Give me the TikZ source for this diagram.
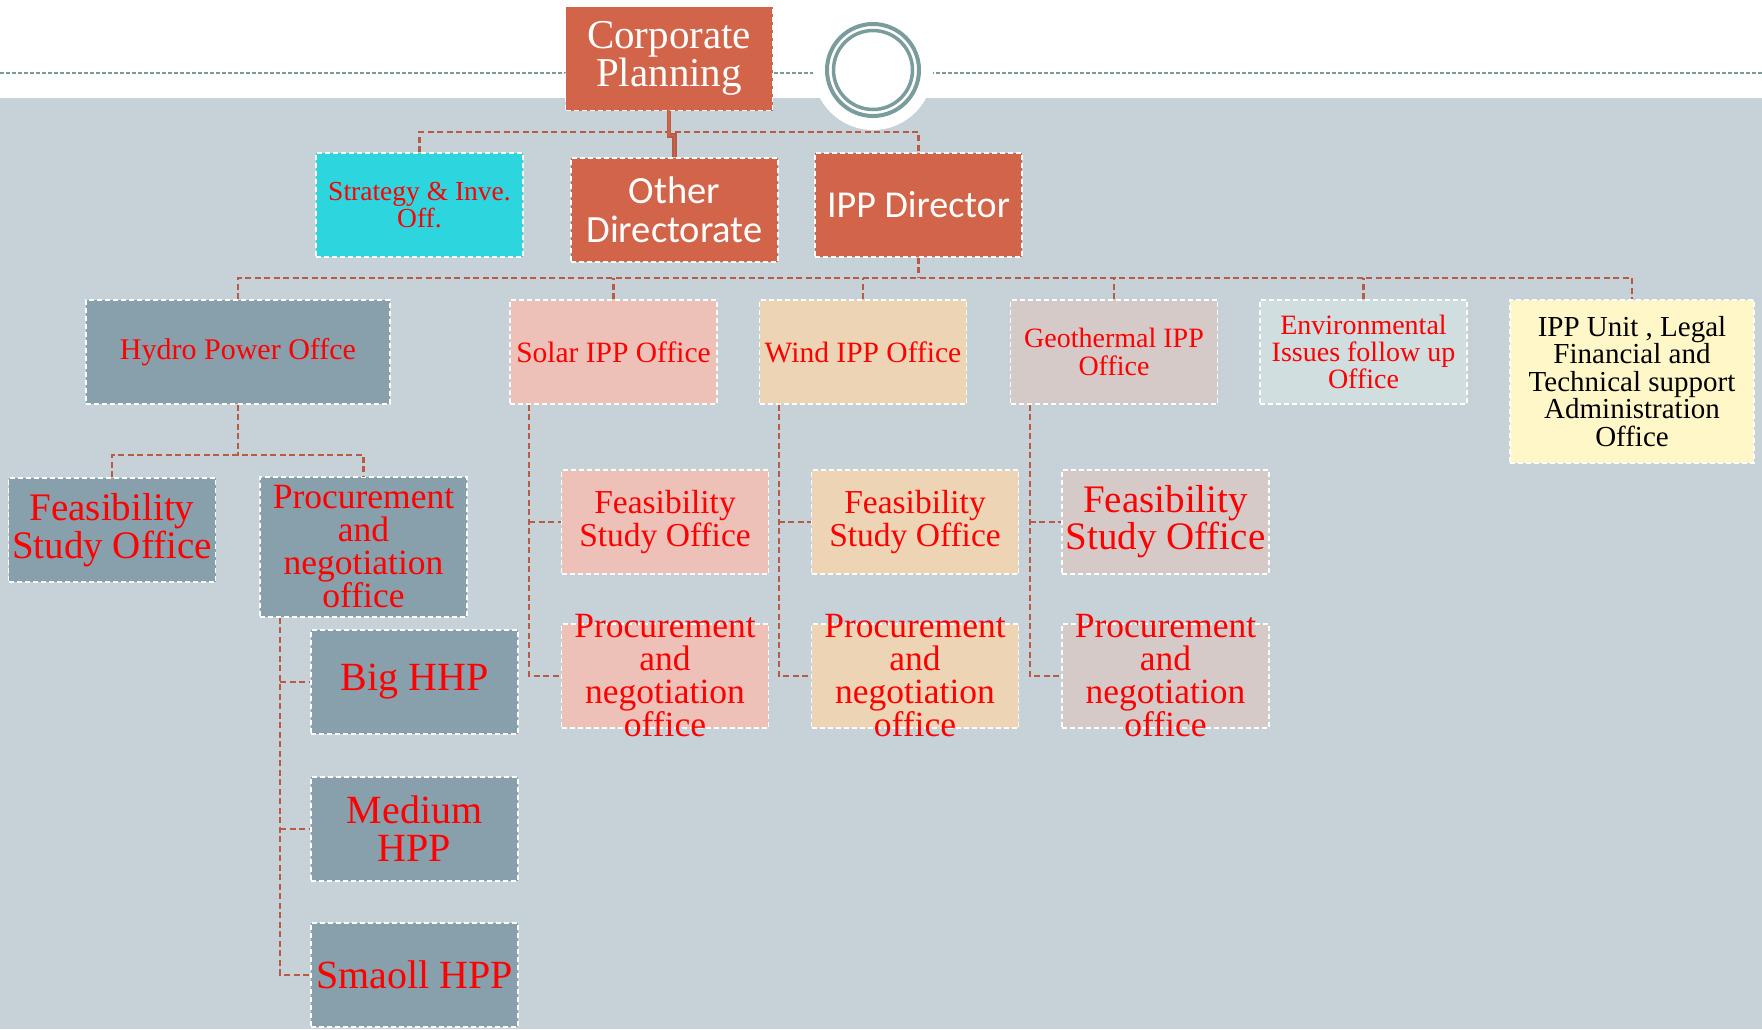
\documentclass[tikz,border=0pt]{standalone}
\usepackage{fontspec}
\setmainfont{Liberation Serif}
\newfontfamily\calibrifont{Carlito}
\usepackage{tikz}
\definecolor{bandc}{HTML}{C6D2D8}
\definecolor{ringc}{HTML}{7B9C9C}
\definecolor{orangec}{HTML}{D2644A}
\definecolor{cyanc}{HTML}{2DD6DF}
\definecolor{hydroc}{HTML}{88A0AB}
\definecolor{solarc}{HTML}{EDC1B7}
\definecolor{windc}{HTML}{EDD4B5}
\definecolor{geoc}{HTML}{D5CAC7}
\definecolor{envc}{HTML}{D0DEE0}
\definecolor{unitc}{HTML}{FFF7C7}
\definecolor{linkc}{HTML}{B85A44}

\begin{document}
\begin{tikzpicture}[x=1pt, y=-1pt,
   unit/.style = {draw=white, dash pattern=on 5pt off 3pt, line width=1.8pt,
                  minimum width=207pt, minimum height=104pt, inner sep=0pt, align=center},
   txt/.style = {text=red, align=center, inner sep=0pt},
   link/.style = {draw=linkc, line width=2.2pt, dash pattern=on 6pt off 3.5pt},
   trunk/.style = {draw=linkc, line width=1.2pt, double=orangec, double distance=1.8pt}]
   \useasboundingbox (0,0) rectangle (1762,1029);
   % background
   \fill[white] (0,0) rectangle (1762,1029);
   \fill[bandc] (0,98) rectangle (1762,1029);
   \draw[ringc, line width=2pt, dash pattern=on 4pt off 2pt] (0,73) -- (1762,73);
   \fill[white] (873,70) circle (60pt);
   \draw[ringc, line width=4pt] (873,70) circle (46pt);
   \draw[ringc, line width=3.5pt] (873,70) circle (39.5pt);
   % top level
   \node[unit, fill=orangec, text=white, font=\fontsize{41}{37}\selectfont] (cp) at (669,58.5) {Corporate\\Planning};
   \node[unit, fill=cyanc, txt, font=\fontsize{27.5}{27}\selectfont] (sio) at (419.5,205) {Strategy \& Inve.\\Off.};
   \node[unit, fill=orangec, text=white, font=\calibrifont\fontsize{38.5}{39}\selectfont] (od) at (674.5,210) {Other\\Directorate};
   \node[unit, fill=orangec, text=white, font=\calibrifont\fontsize{38}{39}\selectfont] (ipp) at (918.5,205) {IPP Director};
   % offices
   \node[unit, fill=hydroc, txt, minimum width=304pt, font=\fontsize{30}{28}\selectfont] (po-h) at (238,352) {Hydro Power Offce};
   \node[unit, fill=solarc, txt, font=\fontsize{29.5}{28}\selectfont] (po-s) at (613.5,352) {Solar IPP Office};
   \node[unit, fill=windc, txt, font=\fontsize{29.5}{28}\selectfont] (po-w) at (863,352) {Wind IPP Office};
   \node[unit, fill=geoc, txt, font=\fontsize{28}{28}\selectfont] (po-g) at (1114,352) {Geothermal IPP\\Office};
   \node[unit, fill=envc, txt, font=\fontsize{28}{27}\selectfont] (env) at (1363.5,352) {Environmental\\Issues follow up\\Office};
   \node[unit, fill=unitc, text=black, minimum width=244pt, minimum height=163pt, font=\fontsize{29}{27.5}\selectfont] (legal) at (1632,381.5) {IPP Unit , Legal\\Financial and\\Technical support\\Administration\\Office};
   % hydro units
   \node[unit, fill=hydroc, txt, font=\fontsize{39}{38}\selectfont] (fs-h) at (112,530) {Feasibility\\Study Office};
   \node[unit, fill=hydroc, txt, minimum height=140pt, font=\fontsize{35.5}{33}\selectfont] (pn-h) at (363.5,547) {Procurement\\and\\negotiation\\office};
   \node[unit, fill=hydroc, txt, font=\fontsize{40}{38}\selectfont] (big) at (414.5,682) {Big HHP};
   \node[unit, fill=hydroc, txt, font=\fontsize{40}{38}\selectfont] (med) at (414.5,829) {Medium\\HPP};
   \node[unit, fill=hydroc, txt, font=\fontsize{40}{38}\selectfont] (sml) at (414.5,975) {Smaoll HPP};
   % solar, wind, geothermal units
   \node[unit, fill=solarc, txt, font=\fontsize{33.5}{33}\selectfont] (fs-s) at (665,522) {Feasibility\\Study Office};
   \node[unit, fill=windc, txt, font=\fontsize{33.5}{33}\selectfont] (fs-w) at (915,522) {Feasibility\\Study Office};
   \node[unit, fill=geoc, txt, font=\fontsize{39}{37}\selectfont] (fs-g) at (1165.5,522) {Feasibility\\Study Office};
   \node[unit, fill=solarc] (pn-s) at (665,676) {};
   \node[unit, fill=windc] (pn-w) at (915,676) {};
   \node[unit, fill=geoc] (pn-g) at (1165.5,676) {};
   \foreach \p in {s,w,g}
      \node[txt, font=\fontsize{35.5}{33}\selectfont] (pn-\p-t) at (pn-\p) {Procurement\\and\\negotiation\\office};
   % connectors
   \coordinate (bus-a) at (669,132);
   \coordinate (bus-b) at (918.5,278);
   \coordinate (bus-c) at (238,455);
   \draw[link] (sio.north) |- (bus-a) -| (ipp.north);
   \draw[trunk] (cp.south) -- ++(0,24) -| (od.north);
   \draw[link] (ipp.south) -- (bus-b);
   \draw[link] (po-h.north) |- (bus-b) -| (legal.north);
   \foreach \n in {po-s,po-w,po-g,env}
      \draw[link] (\n.north) -- (\n.north |- bus-b);
   \draw[link] (po-h.south) -- (bus-c);
   \draw[link] (fs-h.north) |- (bus-c) -| (pn-h.north);
   \foreach \p in {s,w,g} {
      \coordinate (top-\p) at ([xshift=20pt]po-\p.south west);
      \draw[link] (top-\p) |- (pn-\p.west);
      \draw[link] (top-\p |- fs-\p.west) -- (fs-\p.west);
   }
   \coordinate (top-h) at ([xshift=21pt]pn-h.south west);
   \draw[link] (top-h) |- (sml.west);
   \foreach \b in {big,med}
      \draw[link] (top-h |- \b.west) -- (\b.west);
\end{tikzpicture}
\end{document}
